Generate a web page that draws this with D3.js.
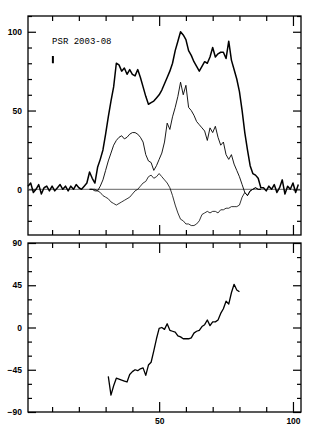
<!DOCTYPE html>
<html>
<head>
<meta charset="utf-8">
<script src="https://cdn.jsdelivr.net/npm/d3@7"></script>
<style>
  body { margin: 0; background: #fff; }
  svg { display: block; }
  .tick text { font-family: "Liberation Sans", Arial, sans-serif; font-size: 8.5px; font-weight: bold; fill: #000; }
  .tick line { stroke: #000; stroke-width: 1.2; }
</style>
</head>
<body>
<svg id="chart" width="315" height="436"></svg>
<script>
// pulse longitude bins (0-102)
var phase = d3.range(1, 103);

// total intensity, one value per bin
var totalI = [
  2, 4, -2, 0, 3, -3, 1, 2, -1, 2,
  -1, 1, 3, 0, 2, -1, 2, 0, 3, 1,
  0, 2, 4, 11, 7, 4, 14, 19, 25, 35,
  46, 56, 65, 80, 79, 75, 77, 73, 76, 73,
  72, 76, 71, 65, 59, 54, 55, 56, 58, 60,
  63, 67, 71, 75, 80, 88, 94, 100, 98, 95,
  88, 85, 81, 78, 75, 78, 81, 80, 84, 90,
  84, 86, 87, 87, 83, 94, 82, 76, 70, 62,
  50, 36, 25, 15, 10, 9, 7, 1, 1, -1,
  2, 0, 3, -2, 1, 6, -3, 2, 0, 4,
  -2, 3
];

// linear polarisation, bins 24-88
var linPhase = d3.range(24, 89);
var linearL = [
  0, 0, -1, -1, 2, 6, 12, 18, 23, 28,
  31, 33, 34, 32, 33, 35, 36, 36, 35, 33,
  30, 22, 18, 17, 12, 15, 19, 23, 30, 42,
  38, 46, 52, 59, 68, 60, 66, 52, 50, 47,
  43, 41, 39, 37, 31, 39, 36, 40, 33, 28,
  30, 22, 19, 22, 16, 12, 8, 3, -2, -4,
  -1, 0, 1, 0, 0
];

// circular polarisation, bins 24-88
var circV = [
  0, 0, 0, -1, -2, -4, -5, -6, -8, -9,
  -10, -9, -8, -7, -6, -5, -3, -1, 0, 2,
  4, 5, 8, 9, 7, 8, 10, 8, 6, 4,
  1, -4, -10, -15, -19, -20, -22, -22, -23, -23,
  -22, -20, -16, -15, -14, -15, -14, -14, -15, -13,
  -13, -12, -12, -11, -11, -11, -10, -5, -2, -4,
  -1, 0, 1, 0, 0
];

// position angle (deg), bins 31-80
var paPhase = d3.range(31, 81);
var posAngle = [
  -52, -72, -62, -54, -55, -56, -57, -58, -50, -47,
  -45, -46, -44, -43, -51, -40, -37, -25, -12, -1,
  0, -2, 4, -3, -4, -5, -9, -10, -12, -12,
  -12, -11, -6, -4, -3, 1, 3, 8, 2, 6,
  6, 8, 15, 20, 28, 25, 37, 46, 40, 38
];

var xTicks = d3.range(10, 101, 10);
var xLabels = [50, 100];
var iTicksMajor = [0, 50, 100];
var iTicksMinor = d3.range(-20, 111, 10);
var paTicksMajor = [-90, -45, 0, 45, 90];
var paTicksMinor = d3.range(-90, 91, 15);
var title = "PSR 2003-08";
var errorBar = { x: 10.3, lo: 80, hi: 84.6 };

var svg = d3.select("#chart");
var left = 28, right = 301;

var x = d3.scaleLinear().domain([1, 103]).range([left, right]);
var yI = d3.scaleLinear().domain([-29, 110]).range([235, 16]);
var yPA = d3.scaleLinear().domain([-90, 90]).range([412, 243]);

function frame(y, major, minor) {
  var r = y.range();
  var g = svg.append("g");
  var minorY = minor.filter(function(d) { return major.indexOf(d) < 0; });

  // minor + major ticks, pointing inwards on all four sides
  g.append("g").attr("transform", "translate(" + left + ",0)")
    .call(d3.axisLeft(y).tickValues(minorY).tickSize(-4).tickFormat(""));
  g.append("g").attr("transform", "translate(" + left + ",0)")
    .call(d3.axisLeft(y).tickValues(major).tickSize(-8).tickPadding(6).tickFormat(d3.format("d")));
  g.append("g").attr("transform", "translate(" + right + ",0)")
    .call(d3.axisRight(y).tickValues(minorY).tickSize(-4).tickFormat(""));
  g.append("g").attr("transform", "translate(" + right + ",0)")
    .call(d3.axisRight(y).tickValues(major).tickSize(-8).tickFormat(""));

  var minorX = xTicks.filter(function(d) { return xLabels.indexOf(d) < 0; });
  g.append("g").attr("transform", "translate(0," + r[1] + ")")
    .call(d3.axisTop(x).tickValues(minorX).tickSize(-5).tickFormat(""));
  g.append("g").attr("transform", "translate(0," + r[1] + ")")
    .call(d3.axisTop(x).tickValues(xLabels).tickSize(-10).tickFormat(""));
  g.append("g").attr("transform", "translate(0," + r[0] + ")")
    .call(d3.axisBottom(x).tickValues(minorX).tickSize(-5).tickFormat(""));
  g.append("g").attr("transform", "translate(0," + r[0] + ")")
    .call(d3.axisBottom(x).tickValues(xLabels).tickSize(-10).tickPadding(6)
      .tickFormat(y === yPA ? d3.format("d") : ""));

  g.selectAll(".domain").remove();

  g.append("rect")
    .attr("x", left).attr("y", r[1])
    .attr("width", right - left).attr("height", r[0] - r[1])
    .attr("fill", "none").attr("stroke", "#000").attr("stroke-width", 1.3);
  return g;
}

frame(yI, iTicksMajor, iTicksMinor);
frame(yPA, paTicksMajor, paTicksMinor);

// zero line
svg.append("line")
  .attr("x1", left).attr("x2", right)
  .attr("y1", yI(0)).attr("y2", yI(0))
  .attr("stroke", "#555").attr("stroke-width", 0.9);

function curve(xs, ys, yScale, width) {
  var pts = xs.map(function(d, i) { return [d, ys[i]]; });
  svg.append("path")
    .datum(pts)
    .attr("d", d3.line().x(function(d) { return x(d[0]); }).y(function(d) { return yScale(d[1]); }))
    .attr("fill", "none")
    .attr("stroke", "#000")
    .attr("stroke-width", width)
    .attr("stroke-linejoin", "round");
}

curve(linPhase, circV, yI, 0.8);
curve(linPhase, linearL, yI, 0.9);
curve(phase, totalI, yI, 1.5);
curve(paPhase, posAngle, yPA, 1.3);

// label and error bar
svg.append("text")
  .attr("x", x(10)).attr("y", yI(92.5))
  .attr("font-family", "'Liberation Mono', 'DejaVu Sans Mono', monospace")
  .attr("font-size", 9)
  .text(title);

svg.append("line")
  .attr("x1", x(errorBar.x)).attr("x2", x(errorBar.x))
  .attr("y1", yI(errorBar.lo)).attr("y2", yI(errorBar.hi))
  .attr("stroke", "#000").attr("stroke-width", 2);
</script>
</body>
</html>
